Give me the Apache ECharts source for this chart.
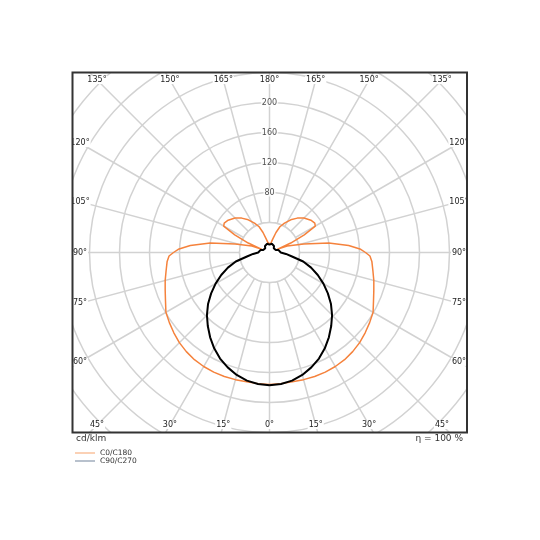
<!doctype html>
<html lang="en">
<head>
<meta charset="UTF-8">
<title>Light distribution</title>
<script src="https://cdn.jsdelivr.net/npm/echarts@6/dist/echarts.min.js"></script>
<style>
    html, body { margin: 0; padding: 0; background: #fff; }
    #chart { width: 540px; height: 540px; }
</style>
</head>
<body>
<div id="chart"></div>
<script>
// gamma angles (deg from nadir) and intensities (cd/klm), C0 plane; C180 is the mirror of it
var gammaC0 = [0, 5, 10, 15, 20, 25, 30, 35, 40, 45, 50, 55, 60, 65, 70, 75, 80, 85, 88, 90, 92, 95, 99, 104, 110, 112.5, 114, 117, 120, 123, 128, 135, 141, 147, 153, 158, 162, 166, 170, 175, 180];
var valuesC0 = [176, 175.5, 175, 175.5, 176, 176, 175.5, 174.5, 172.5, 170, 166.5, 163, 159.5, 153, 148, 144, 140, 137, 134, 128, 121.7, 106, 80, 47, 25, 11, 31, 52, 70.5, 72, 70, 65, 59, 52, 44, 37, 28, 19, 14, 11, 10];

// C90 plane; C270 is the mirror of it
var gammaC90 = [0, 5, 10, 15, 20, 25, 30, 35, 40, 45, 50, 55, 60, 65, 70, 75, 80, 85, 90, 100, 105, 112, 125, 135, 145, 155, 165, 172, 180];
var valuesC90 = [177, 176, 173.5, 169, 163, 156, 147.5, 138, 128, 118, 107, 95, 83, 71, 59, 46.5, 30.5, 22, 15, 13.5, 12.5, 9, 7.5, 8, 10.5, 10.5, 12, 11, 10.5];

var seriesNames = ['C0/C180', 'C90/C270'];
var radiusLabels = [80, 120, 160, 200];
var angleTicks = [0, 15, 30, 45, 60, 75, 90, 105, 120, 135, 150, 165, 180];
var innerRing = 40;  // spokes start at this ring

// right half uses angle 180 - gamma, left half 180 + gamma (0 at top, clockwise)
function loop(gammas, values) {
    var pts = [];
    for (var i = 0; i < gammas.length; i++) pts.push([values[i], 180 - gammas[i]]);
    for (var j = gammas.length - 1; j >= 0; j--) pts.push([values[j], 180 + gammas[j]]);
    return pts;
}

var cx = 269.5, cy = 252.5;
var frame = {x1: 72.5, y1: 72.5, x2: 467, y2: 432.5};
var inset = {hx: 189.5, hy: 172.5};
var gridColor = '#d2d2d2';

var myChart = echarts.init(document.getElementById('chart'));
myChart.setOption({
    animation: false,
    backgroundColor: '#fff',
    textStyle: {fontFamily: 'DejaVu Sans'},
    polar: {center: [cx, cy], radius: 270},
    angleAxis: {
        type: 'value', min: 0, max: 360, interval: 15,
        startAngle: 90, clockwise: true,
        axisLine: {show: false}, axisTick: {show: false}, axisLabel: {show: false},
        splitLine: {show: true, lineStyle: {color: gridColor, width: 1.5}}
    },
    radiusAxis: {
        type: 'value', min: 0, max: 360, interval: 40,
        axisLine: {show: false}, axisTick: {show: false}, axisLabel: {show: false},
        splitLine: {show: true, lineStyle: {color: gridColor, width: 1.5}}
    },
    legend: {
        z: 200, orient: 'vertical', left: 75, top: 449, padding: 0,
        itemWidth: 20, itemHeight: 1, itemGap: 0, icon: 'rect',
        textStyle: {fontSize: 7.5, color: '#333', lineHeight: 8, padding: 0},
        data: [
            {name: seriesNames[0], itemStyle: {color: '#f7a26a'}},
            {name: seriesNames[1], itemStyle: {color: '#71839a'}}
        ]
    },
    series: [
        {
            type: 'scatter', coordinateSystem: 'polar', symbolSize: 0, z: 3, silent: true,
            data: radiusLabels.map(function (v) { return [v, 0]; }),
            label: {
                show: true, position: 'inside', fontSize: 8, color: '#222',
                backgroundColor: '#fff', padding: [0, 1],
                formatter: function (p) { return p.value[0]; }
            }
        },
        {
            name: seriesNames[0], type: 'line', coordinateSystem: 'polar', clip: false,
            showSymbol: false, z: 4,
            lineStyle: {color: '#f5823c', width: 1.5}, itemStyle: {color: '#f5823c'},
            data: loop(gammaC0, valuesC0)
        },
        {
            name: seriesNames[1], type: 'line', coordinateSystem: 'polar', clip: false,
            showSymbol: false, z: 5,
            lineStyle: {color: '#000', width: 2}, itemStyle: {color: '#000'},
            data: loop(gammaC90, valuesC90)
        }
    ]
});

// pixel radius of the inner ring, taken from the polar scale
var ringPt = myChart.convertToPixel({polarIndex: 0}, [innerRing, 0]);
var ringR = Math.abs(cy - ringPt[1]);

var graphics = [];
// hide the spokes inside the inner ring
graphics.push({
    type: 'circle', z: 1, shape: {cx: cx, cy: cy, r: ringR},
    style: {fill: '#fff', stroke: gridColor, lineWidth: 1.5}
});
// angle labels where each spoke meets the inset box
angleTicks.forEach(function (g) {
    var sides = (g === 0 || g === 180) ? [1] : [1, -1];
    sides.forEach(function (s) {
        var dx = s * Math.sin(g * Math.PI / 180);
        var dy = Math.cos(g * Math.PI / 180);
        var t = Math.min(Math.abs(dx) > 1e-9 ? inset.hx / Math.abs(dx) : 1e9,
                         Math.abs(dy) > 1e-9 ? inset.hy / Math.abs(dy) : 1e9);
        graphics.push({
            type: 'text', x: cx + t * dx, y: cy + t * dy, z: 50,
            style: {
                text: g + '°', fontSize: 8, fontFamily: 'DejaVu Sans', fill: '#222',
                align: 'center', verticalAlign: 'middle',
                backgroundColor: '#fff', padding: [0, 1]
            }
        });
    });
});
// white masks outside the frame
[[0, 0, 540, frame.y1], [0, frame.y2, 540, 540 - frame.y2], [0, 0, frame.x1, 540], [frame.x2, 0, 540 - frame.x2, 540]].forEach(function (r) {
    graphics.push({type: 'rect', z: 100, shape: {x: r[0], y: r[1], width: r[2], height: r[3]}, style: {fill: '#fff'}});
});
graphics.push({
    type: 'rect', z: 101,
    shape: {x: frame.x1, y: frame.y1, width: frame.x2 - frame.x1, height: frame.y2 - frame.y1},
    style: {fill: 'none', stroke: '#333', lineWidth: 2}
});
graphics.push({
    type: 'text', z: 102, x: 76, y: 439,
    style: {text: 'cd/klm', fontSize: 9, fontFamily: 'DejaVu Sans', fill: '#333', verticalAlign: 'middle'}
});
graphics.push({
    type: 'text', z: 102, x: 463, y: 439,
    style: {text: 'η = 100 %', fontSize: 9, fontFamily: 'DejaVu Sans', fill: '#333', align: 'right', verticalAlign: 'middle'}
});
myChart.setOption({graphic: {elements: graphics}});
</script>
</body>
</html>
